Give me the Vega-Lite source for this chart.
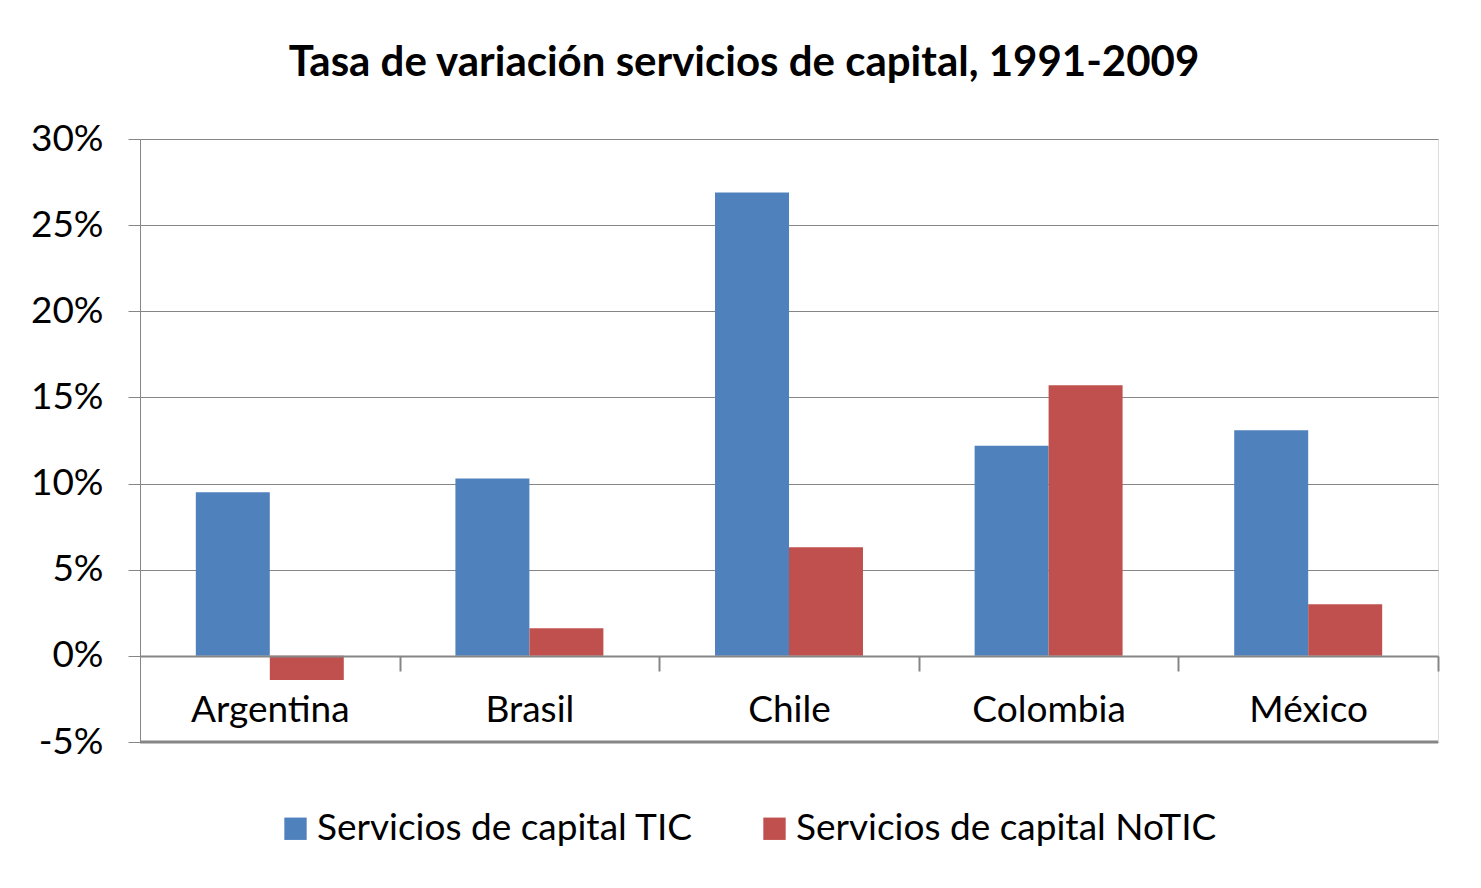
{
  "$schema": "https://vega.github.io/schema/vega-lite/v6.json",
  "width": 1298,
  "height": 603,
  "autosize": {"type": "none"},
  "padding": {"left": 140, "top": 139, "right": 43, "bottom": 146},
  "background": "white",
  "title": {
    "text": "Tasa de variación servicios de capital, 1991-2009",
    "font": "Lato",
    "fontSize": 42,
    "fontWeight": "bold",
    "color": "black",
    "anchor": "middle",
    "dx": -45,
    "offset": 35
  },
  "data": {
    "values": [
      {"pais": "Argentina", "serie": "Servicios de capital TIC", "valor": 0.095},
      {"pais": "Argentina", "serie": "Servicios de capital NoTIC", "valor": -0.014},
      {"pais": "Brasil", "serie": "Servicios de capital TIC", "valor": 0.103},
      {"pais": "Brasil", "serie": "Servicios de capital NoTIC", "valor": 0.016},
      {"pais": "Chile", "serie": "Servicios de capital TIC", "valor": 0.269},
      {"pais": "Chile", "serie": "Servicios de capital NoTIC", "valor": 0.063},
      {"pais": "Colombia", "serie": "Servicios de capital TIC", "valor": 0.122},
      {"pais": "Colombia", "serie": "Servicios de capital NoTIC", "valor": 0.157},
      {"pais": "México", "serie": "Servicios de capital TIC", "valor": 0.131},
      {"pais": "México", "serie": "Servicios de capital NoTIC", "valor": 0.030}
    ]
  },
  "layer": [
    {
      "mark": {"type": "bar"},
      "encoding": {
        "x": {
          "field": "pais",
          "type": "nominal",
          "sort": null,
          "scale": {"paddingInner": 0.43, "paddingOuter": 0.215},
          "axis": {
            "title": null,
            "offset": -86,
            "tickOffset": 129.8,
            "labelOffset": -129.8,
            "tickSize": 15,
            "tickColor": "#868686",
            "tickWidth": 2,
            "domainColor": "#868686",
            "domainWidth": 2,
            "labelFontSize": 37,
            "labelFont": "Lato",
            "labelColor": "black",
            "labelPadding": 21,
            "labelAngle": 0,
            "grid": false,
            "zindex": 1
          }
        },
        "xOffset": {
          "field": "serie",
          "type": "nominal",
          "sort": ["Servicios de capital TIC", "Servicios de capital NoTIC"],
          "scale": {"paddingInner": 0, "paddingOuter": 0}
        },
        "y": {
          "field": "valor",
          "type": "quantitative",
          "scale": {"domain": [-0.05, 0.30], "nice": false, "zero": false},
          "axis": {
            "title": null,
            "values": [-0.05, 0, 0.05, 0.1, 0.15, 0.2, 0.25, 0.3],
            "format": ".0%",
            "labelExpr": "replace(datum.label, '−', '-')",
            "grid": true,
            "gridColor": "#868686",
            "gridWidth": 1,
            "domainColor": "#868686",
            "domainWidth": 1,
            "tickColor": "#868686",
            "tickSize": 12,
            "labelFontSize": 37,
            "labelFont": "Lato",
            "labelColor": "black",
            "labelPadding": 25
          }
        },
        "color": {
          "field": "serie",
          "type": "nominal",
          "scale": {
            "domain": ["Servicios de capital TIC", "Servicios de capital NoTIC"],
            "range": ["#4F81BD", "#C0504D"]
          },
          "legend": {
            "orient": "none",
            "legendX": 137,
            "legendY": 671,
            "direction": "horizontal",
            "title": null,
            "symbolType": "square",
            "symbolSize": 500,
            "symbolStrokeWidth": 0,
            "labelFontSize": 37,
            "labelFont": "Lato",
            "labelColor": "black",
            "labelLimit": 600,
            "columnPadding": 62,
            "labelOffset": 3
          }
        }
      }
    },
    {
      "data": {"values": [{"y": -0.05}]},
      "mark": {"type": "rule", "color": "#868686", "strokeWidth": 3},
      "encoding": {
        "y": {"field": "y", "type": "quantitative"}
      }
    }
  ]
}
